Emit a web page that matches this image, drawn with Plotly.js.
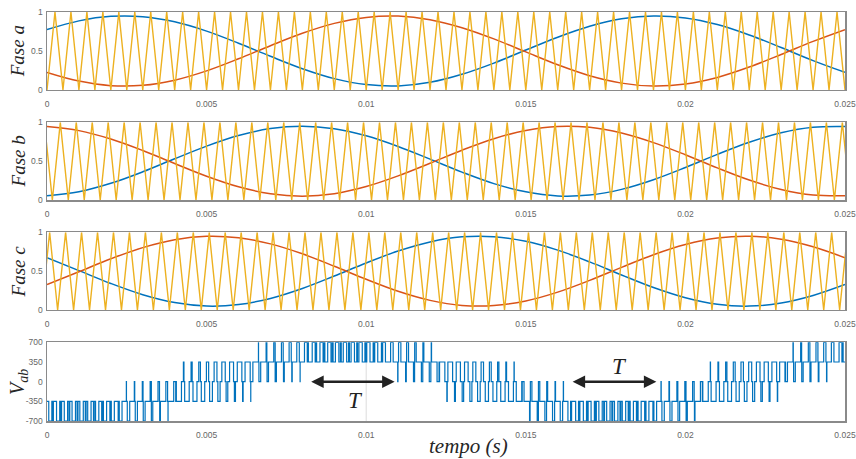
<!DOCTYPE html>
<html>
<head>
<meta charset="utf-8">
<script src="https://cdn.plot.ly/plotly-3.0.1.min.js"></script>
<style>html,body{margin:0;padding:0;background:#fff}#chart{width:856px;height:459px}</style>
</head>
<body>
<div id="chart"></div>
<script>
// ---------- data ----------
// sample times of the modulating (reference) signals, in ms
const refTime_ms = [0,1,2,3,4,5,6,7,8,9,10,11,12,13,14,15,16,17,18,19,20,21,22,23,24,25];

// Fase a
const faseA_blue   = [0.774,0.886,0.944,0.940,0.874,0.755,0.600,0.432,0.273,0.146,0.069,0.052,0.098,0.201,0.345,0.512,0.677,0.817,0.912,0.950,0.924,0.839,0.706,0.545,0.377,0.226];
const faseA_orange = [0.226,0.114,0.056,0.060,0.126,0.245,0.400,0.568,0.727,0.854,0.931,0.948,0.902,0.799,0.655,0.488,0.323,0.183,0.088,0.050,0.076,0.161,0.294,0.455,0.623,0.774];
// Fase b
const faseB_blue   = [0.054,0.107,0.215,0.363,0.531,0.694,0.830,0.919,0.950,0.918,0.826,0.689,0.526,0.359,0.211,0.105,0.053,0.065,0.137,0.261,0.418,0.587,0.743,0.865,0.936,0.946];
const faseB_orange = [0.946,0.893,0.785,0.637,0.469,0.306,0.170,0.081,0.050,0.082,0.174,0.311,0.474,0.641,0.789,0.895,0.947,0.935,0.863,0.739,0.582,0.413,0.257,0.135,0.064,0.054];
// Fase c
const faseC_blue   = [0.672,0.507,0.341,0.197,0.096,0.051,0.070,0.149,0.277,0.437,0.605,0.759,0.876,0.941,0.943,0.884,0.770,0.619,0.451,0.289,0.158,0.074,0.050,0.090,0.187,0.328];
const faseC_orange = [0.328,0.493,0.659,0.803,0.904,0.949,0.930,0.851,0.723,0.563,0.395,0.241,0.124,0.059,0.057,0.116,0.230,0.381,0.549,0.711,0.842,0.926,0.950,0.910,0.813,0.672];

// triangular carriers: vertex times (microseconds) and vertex levels
const carrierA_us = [0,250,500,750,1000,1250,1500,1750,2000,2250,2500,2750,3000,3250,3500,3750,4000,4250,4500,4750,5000,5250,5500,5750,6000,6250,6500,6750,7000,7250,7500,7750,8000,8250,8500,8750,9000,9250,9500,9750,10000,10250,10500,10750,11000,11250,11500,11750,12000,12250,12500,12750,13000,13250,13500,13750,14000,14250,14500,14750,15000,15250,15500,15750,16000,16250,16500,16750,17000,17250,17500,17750,18000,18250,18500,18750,19000,19250,19500,19750,20000,20250,20500,20750,21000,21250,21500,21750,22000,22250,22500,22750,23000,23250,23500,23750,24000,24250,24500,24750,25000];
const carrierA_lv = [0,1,0,1,0,1,0,1,0,1,0,1,0,1,0,1,0,1,0,1,0,1,0,1,0,1,0,1,0,1,0,1,0,1,0,1,0,1,0,1,0,1,0,1,0,1,0,1,0,1,0,1,0,1,0,1,0,1,0,1,0,1,0,1,0,1,0,1,0,1,0,1,0,1,0,1,0,1,0,1,0,1,0,1,0,1,0,1,0,1,0,1,0,1,0,1,0,1,0,1,0];
const carrierB_us = [-83,167,417,667,917,1167,1417,1667,1917,2167,2417,2667,2917,3167,3417,3667,3917,4167,4417,4667,4917,5167,5417,5667,5917,6167,6417,6667,6917,7167,7417,7667,7917,8167,8417,8667,8917,9167,9417,9667,9917,10167,10417,10667,10917,11167,11417,11667,11917,12167,12417,12667,12917,13167,13417,13667,13917,14167,14417,14667,14917,15167,15417,15667,15917,16167,16417,16667,16917,17167,17417,17667,17917,18167,18417,18667,18917,19167,19417,19667,19917,20167,20417,20667,20917,21167,21417,21667,21917,22167,22417,22667,22917,23167,23417,23667,23917,24167,24417,24667,24917,25167];
const carrierB_lv = [1,0,1,0,1,0,1,0,1,0,1,0,1,0,1,0,1,0,1,0,1,0,1,0,1,0,1,0,1,0,1,0,1,0,1,0,1,0,1,0,1,0,1,0,1,0,1,0,1,0,1,0,1,0,1,0,1,0,1,0,1,0,1,0,1,0,1,0,1,0,1,0,1,0,1,0,1,0,1,0,1,0,1,0,1,0,1,0,1,0,1,0,1,0,1,0,1,0,1,0,1,0];
const carrierC_us = [-167,83,333,583,833,1083,1333,1583,1833,2083,2333,2583,2833,3083,3333,3583,3833,4083,4333,4583,4833,5083,5333,5583,5833,6083,6333,6583,6833,7083,7333,7583,7833,8083,8333,8583,8833,9083,9333,9583,9833,10083,10333,10583,10833,11083,11333,11583,11833,12083,12333,12583,12833,13083,13333,13583,13833,14083,14333,14583,14833,15083,15333,15583,15833,16083,16333,16583,16833,17083,17333,17583,17833,18083,18333,18583,18833,19083,19333,19583,19833,20083,20333,20583,20833,21083,21333,21583,21833,22083,22333,22583,22833,23083,23333,23583,23833,24083,24333,24583,24833,25083];
const carrierC_lv = [0,1,0,1,0,1,0,1,0,1,0,1,0,1,0,1,0,1,0,1,0,1,0,1,0,1,0,1,0,1,0,1,0,1,0,1,0,1,0,1,0,1,0,1,0,1,0,1,0,1,0,1,0,1,0,1,0,1,0,1,0,1,0,1,0,1,0,1,0,1,0,1,0,1,0,1,0,1,0,1,0,1,0,1,0,1,0,1,0,1,0,1,0,1,0,1,0,1,0,1,0,1];

// V_ab level step (V) and tick labels
const vStep = 350;
const xTickVals = [0,0.005,0.01,0.015,0.02,0.025];
const xTickText = ['0','0.005','0.01','0.015','0.02','0.025'];
const faseTickVals = [0,0.5,1];
const faseTickText = ['0','0.5','1'];
const vabTickVals = [-700,-350,0,350,700];
const vabTickText = ['-700','-350','0','350','700'];
const panelTitles = ['Fase a','Fase b','Fase c','V<sub>ab</sub>'];

// ---------- helpers ----------
const refT = refTime_ms.map(v => v / 1000);
const carT = arr => arr.map(v => v / 1e6);
const cA = carT(carrierA_us), cB = carT(carrierB_us), cC = carT(carrierC_us);

function lin(xs, ys, x) {
  let lo = 0, hi = xs.length - 1;
  if (x <= xs[0]) return ys[0];
  if (x >= xs[hi]) return ys[hi];
  while (hi - lo > 1) { const m = (lo + hi) >> 1; if (xs[m] <= x) lo = m; else hi = m; }
  const f = (x - xs[lo]) / (xs[hi] - xs[lo]);
  return ys[lo] + f * (ys[hi] - ys[lo]);
}

// PWM line voltage from the references and carriers above
function phaseV(t, blue, orange, cx, cy) {
  const c = lin(cx, cy, t);
  const sp = lin(refT, orange, t) > c ? 1 : 0;
  const sn = lin(refT, blue, t) > c ? 1 : 0;
  return vStep * (sp - sn);
}
const vabX = [], vabY = [];
let prev = null;
const N = 50000;
for (let i = 0; i <= N; i++) {
  const t = 0.025 * i / N;
  const va = phaseV(t, faseA_blue, faseA_orange, cA, carrierA_lv);
  const vb = phaseV(t, faseB_blue, faseB_orange, cB, carrierB_lv);
  const v = va - vb;
  if (v !== prev || i === N) { vabX.push(t); vabY.push(v); prev = v; }
}

// ---------- traces ----------
const BLUE = '#0072BD', ORANGE = '#D95319', YELLOW = '#EDB120';
const traces = [];
const phases = [
  [faseA_blue, faseA_orange, cA, carrierA_lv],
  [faseB_blue, faseB_orange, cB, carrierB_lv],
  [faseC_blue, faseC_orange, cC, carrierC_lv]
];
phases.forEach((p, i) => {
  const xa = i === 0 ? 'x' : 'x' + (i + 1), ya = i === 0 ? 'y' : 'y' + (i + 1);
  traces.push({x: refT, y: p[0], xaxis: xa, yaxis: ya, mode: 'lines', line: {color: BLUE, width: 1.5, shape: 'spline', smoothing: 1}, hoverinfo: 'skip'});
  traces.push({x: refT, y: p[1], xaxis: xa, yaxis: ya, mode: 'lines', line: {color: ORANGE, width: 1.5, shape: 'spline', smoothing: 1}, hoverinfo: 'skip'});
  traces.push({x: p[2], y: p[3], xaxis: xa, yaxis: ya, mode: 'lines', line: {color: YELLOW, width: 1.4}, hoverinfo: 'skip'});
});
traces.push({x: vabX, y: vabY, xaxis: 'x4', yaxis: 'y4', mode: 'lines', line: {color: BLUE, width: 1.2, shape: 'hv'}, hoverinfo: 'skip'});

// ---------- layout ----------
const tickFont = {family: 'Liberation Sans, Arial, sans-serif', size: 8.5, color: '#666'};
const frame = {showline: true, mirror: true, linecolor: '#8a8a8a', linewidth: 1.5, zeroline: false, showgrid: false, ticks: '', tickfont: tickFont};
const domains = [[0.8093, 1.0], [0.5403, 0.7303], [0.2714, 0.4614], [0.0, 0.1924]];
const serif = 'Liberation Serif, Times New Roman, serif';
const layout = {
  width: 856, height: 459,
  margin: {l: 47, r: 11, t: 12, b: 38},
  paper_bgcolor: '#fff', plot_bgcolor: '#fff',
  showlegend: false,
  annotations: [],
  shapes: [{type: 'line', xref: 'x4', yref: 'y4', x0: 0.01, x1: 0.01, y0: -700, y1: 700, line: {color: '#dcdcdc', width: 1}, layer: 'below'}]
};
for (let i = 0; i < 4; i++) {
  const s = i === 0 ? '' : String(i + 1);
  layout['xaxis' + s] = Object.assign({}, frame, {anchor: 'y' + s, range: [0, 0.025], tickmode: 'array',
    tickvals: xTickVals, ticktext: xTickText, domain: [0, 1], ticklabelstandoff: 5});
  layout['yaxis' + s] = Object.assign({}, frame, {anchor: 'x' + s, domain: domains[i],
    range: i < 3 ? [0, 1] : [-700, 700], tickmode: 'array', ticklabelstandoff: 1,
    tickvals: i < 3 ? faseTickVals : vabTickVals, ticktext: i < 3 ? faseTickText : vabTickText});
  layout.annotations.push({xref: 'paper', yref: 'paper', x: -0.036, y: (domains[i][0] + domains[i][1]) / 2,
    text: panelTitles[i], textangle: -90, showarrow: false, xanchor: 'center', yanchor: 'middle',
    font: {family: serif, size: i < 3 ? 19 : 20, color: '#262626', style: 'italic'}});
}
// x title
layout.annotations.push({xref: 'paper', yref: 'paper', x: (468 - 47) / 798, y: -(446 - 421) / 409,
  text: 'tempo (s)', showarrow: false, xanchor: 'center', yanchor: 'middle',
  font: {family: serif, size: 21, color: '#262626', style: 'italic'}});
// period arrows and labels
[[0.00823, 0.01089], [0.01642, 0.01909]].forEach(a => {
  layout.annotations.push({xref: 'x4', yref: 'y4', axref: 'x4', ayref: 'y4', x: a[1], y: 0, ax: a[0], ay: 0,
    text: '', showarrow: true, arrowhead: 2, arrowside: 'end+start', arrowsize: 1, arrowwidth: 2.5, arrowcolor: '#222'});
});
layout.annotations.push({xref: 'x4', yref: 'y4', x: 0.00968, y: -330, text: 'T', showarrow: false,
  font: {family: serif, size: 23, color: '#222', style: 'italic'}});
layout.annotations.push({xref: 'x4', yref: 'y4', x: 0.01793, y: 270, text: 'T', showarrow: false,
  font: {family: serif, size: 23, color: '#222', style: 'italic'}});

Plotly.newPlot('chart', traces, layout, {staticPlot: true, displayModeBar: false});
</script>
</body>
</html>
